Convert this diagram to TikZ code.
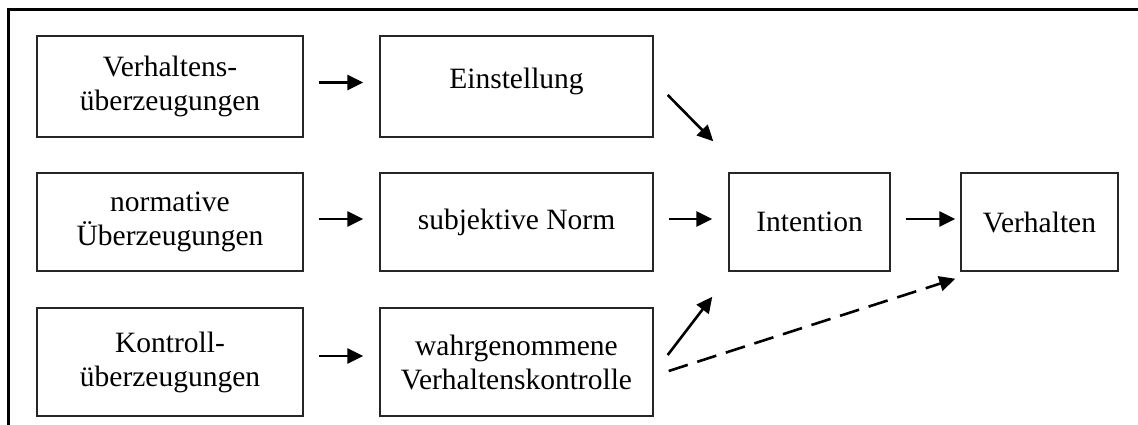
\documentclass[tikz,border=0pt]{standalone}
\usepackage{fontspec}
\setmainfont{Liberation Serif}
\usetikzlibrary{arrows.meta}
\newcommand\boxfs{\fontsize{29.5}{34}\selectfont}
\begin{document}
\begin{tikzpicture}[x=1pt,y=-1pt,
  box/.style={draw=black!85, line width=1.4pt, inner sep=0pt, align=center, font=\boxfs},
  arr/.style={line width=2.6pt, -{Triangle[length=16pt,width=15pt]}},
  dasharr/.style={arr, dash pattern=on 20pt off 10pt}]
\useasboundingbox (0,0) rectangle (1138,425);
\draw[line width=3pt] (1138,10) -- (8,10) -- (8,425);

\node[box, minimum width=266pt, minimum height=101pt] (vu) at (170,86.5) {Verhaltens-\\überzeugungen};
\node[box, minimum width=266pt, minimum height=98pt] (nu) at (170,222) {normative\\Überzeugungen};
\node[box, minimum width=266pt, minimum height=108pt] (ku) at (170,362) {Kontroll-\\überzeugungen};

\node[box, minimum width=273pt, minimum height=101pt] (ein) at (516.5,86.5) {};
\node[font=\boxfs, inner sep=0pt] (eintxt) at ([yshift=5pt]ein.center) {Einstellung};
\node[box, minimum width=273pt, minimum height=98pt] (sn) at (516.5,222) {subjektive Norm};
\node[box, minimum width=273pt, minimum height=108pt] (wv) at (516.5,362) {wahrgenommene\\Verhaltenskontrolle};

\node[box, minimum width=161pt, minimum height=98pt] (int) at (809.5,222) {Intention};
\node[box, minimum width=157pt, minimum height=98pt] (ver) at (1039.5,222) {Verhalten};

\draw[arr, shorten <=15pt, shorten >=16pt] ([yshift=4pt]vu.east) -- ([yshift=4pt]ein.west);
\draw[arr, shorten <=15pt, shorten >=16pt] ([yshift=3pt]nu.east) -- ([yshift=3pt]sn.west);
\draw[arr, shorten <=15pt, shorten >=16pt] ([yshift=6pt]ku.east) -- ([yshift=6pt]wv.west);
\draw[arr, shorten <=15pt, shorten >=16pt] ([yshift=3pt]sn.east) -- ([yshift=3pt]int.west);
\draw[arr, shorten <=15pt, shorten >=5pt] ([yshift=3pt]int.east) -- ([yshift=3pt]ver.west);

\draw[arr] ([shift={(14,8.5)}]ein.east) -- ([shift={(-15,-31)}]int.north west);
\draw[arr] ([shift={(14,-7)}]wv.east) -- ([shift={(-16,25)}]int.south west);
\draw[dasharr] ([shift={(15,9)}]wv.east) -- ([shift={(-5,7)}]ver.south west);
\end{tikzpicture}
\end{document}
